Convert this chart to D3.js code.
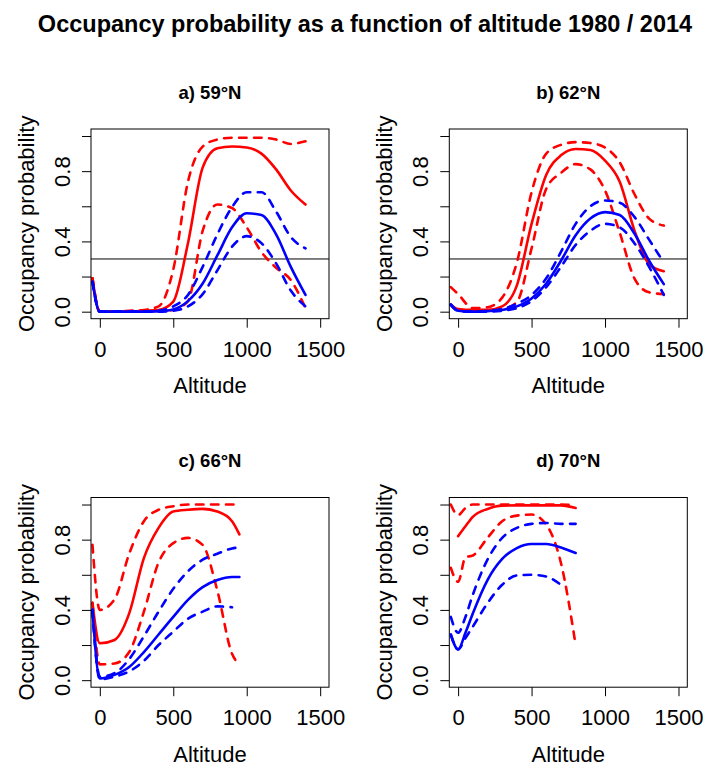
<!DOCTYPE html>
<html><head><meta charset="utf-8">
<script src="https://cdn.jsdelivr.net/npm/d3@7"></script>
<style>
body{margin:0;background:#fff}
svg{display:block}
text{font-family:"Liberation Sans",Arial,Helvetica,sans-serif;fill:#000}
</style>
</head><body><svg id="chart" width="707" height="765"></svg>
<script>
// ---------- text ----------
const mainTitle = "Occupancy probability as a function of altitude 1980 / 2014";
const panelTitles = ["a) 59°N", "b) 62°N", "c) 66°N", "d) 70°N"];
const xLabel = "Altitude";
const yLabel = "Occupancy probability";
const xTicks = [0, 500, 1000, 1500];
const xTickLabels = ["0", "500", "1000", "1500"];
const yTicks = [0, 0.2, 0.4, 0.6, 0.8, 1.0];
const yTickLabels = ["0.0", "", "0.4", "", "0.8", ""];
const threshold = 0.3;

// ---------- data (altitude grids) ----------
const altA = [-50, 0, 100, 200, 300, 400, 500, 600, 700, 800, 900, 1000, 1100, 1200, 1300, 1400];
const altB = [-50, 0, 100, 200, 300, 400, 500, 600, 700, 800, 900, 1000, 1100, 1200, 1300, 1400];
const altC = [-50, 0, 100, 200, 300, 400, 500, 600, 700, 800, 900, 950];
const altD = [-50, 0, 50, 100, 200, 300, 400, 500, 600, 700, 800];

// panel a) 59°N
const aRedFit  = [0.19, 0.0, 0.0, 0.0, 0.005, 0.01, 0.057, 0.39, 0.82, 0.93, 0.94, 0.935, 0.90, 0.81, 0.69, 0.61];
const aRedHi   = [0.19, 0.0, 0.0, 0.005, 0.01, 0.03, 0.24, 0.74, 0.94, 0.98, 0.99, 0.99, 0.99, 0.98, 0.955, 0.97];
const aRedLo   = [0.19, 0.0, 0.0, 0.0, 0.0, 0.005, 0.01, 0.06, 0.46, 0.61, 0.59, 0.48, 0.34, 0.25, 0.18, 0.02];
const aBlueFit = [0.17, 0.0, 0.0, 0.0, 0.0, 0.003, 0.013, 0.06, 0.16, 0.32, 0.48, 0.56, 0.55, 0.44, 0.255, 0.095];
const aBlueHi  = [0.17, 0.0, 0.0, 0.0, 0.0, 0.005, 0.03, 0.095, 0.255, 0.44, 0.595, 0.68, 0.68, 0.57, 0.425, 0.36];
const aBlueLo  = [0.17, 0.0, 0.0, 0.0, 0.0, 0.0, 0.005, 0.03, 0.10, 0.235, 0.37, 0.43, 0.39, 0.275, 0.12, 0.03];

// panel b) 62°N
const bRedFit  = [0.04, 0.015, 0.01, 0.01, 0.03, 0.15, 0.50, 0.78, 0.89, 0.926, 0.92, 0.86, 0.74, 0.463, 0.27, 0.23];
const bRedHi   = [0.14, 0.10, 0.02, 0.025, 0.08, 0.28, 0.68, 0.90, 0.95, 0.965, 0.96, 0.935, 0.85, 0.67, 0.53, 0.49];
const bRedLo   = [0.04, 0.01, 0.0, 0.005, 0.015, 0.055, 0.36, 0.70, 0.79, 0.84, 0.81, 0.69, 0.45, 0.19, 0.11, 0.10];
const bBlueFit = [0.04, 0.005, 0.0, 0.003, 0.01, 0.03, 0.075, 0.16, 0.29, 0.435, 0.53, 0.567, 0.55, 0.445, 0.29, 0.157];
const bBlueHi  = [0.04, 0.005, 0.0, 0.005, 0.015, 0.045, 0.095, 0.19, 0.34, 0.50, 0.60, 0.633, 0.62, 0.54, 0.41, 0.28];
const bBlueLo  = [0.04, 0.005, 0.0, 0.0, 0.005, 0.02, 0.06, 0.14, 0.255, 0.38, 0.46, 0.50, 0.48, 0.39, 0.255, 0.095];

// panel c) 66°N
const cRedFit  = [0.44, 0.21, 0.229, 0.38, 0.695, 0.867, 0.96, 0.97, 0.975, 0.96, 0.905, 0.83];
const cRedHi   = [0.77, 0.40, 0.46, 0.72, 0.905, 0.97, 0.99, 1.0, 1.0, 1.0, 1.0, 1.0];
const cRedLo   = [0.44, 0.09, 0.095, 0.16, 0.39, 0.67, 0.78, 0.81, 0.77, 0.51, 0.15, 0.09];
const cBlueFit = [0.40, 0.01, 0.03, 0.075, 0.16, 0.26, 0.36, 0.457, 0.53, 0.57, 0.587, 0.587];
const cBlueHi  = [0.40, 0.02, 0.04, 0.12, 0.25, 0.39, 0.52, 0.62, 0.686, 0.72, 0.75, 0.756];
const cBlueLo  = [0.40, 0.005, 0.02, 0.05, 0.11, 0.20, 0.276, 0.35, 0.39, 0.42, 0.415, null];

// panel d) 70°N
const dRedFit  = [null, 0.82, 0.876, 0.93, 0.975, 0.994, 0.995, 0.995, 0.995, 0.995, 0.98];
const dRedHi   = [1.0, 0.94, 0.98, 1.0, 1.0, 1.0, 1.0, 1.0, 1.0, 1.0, 0.995];
const dRedLo   = [0.64, 0.56, 0.70, 0.71, 0.81, 0.905, 0.937, 0.943, 0.886, 0.667, 0.20];
const dBlueFit = [0.26, 0.175, 0.27, 0.38, 0.57, 0.69, 0.752, 0.775, 0.775, 0.756, 0.724];
const dBlueHi  = [0.36, 0.27, 0.36, 0.486, 0.686, 0.81, 0.867, 0.89, 0.895, 0.89, 0.89];
const dBlueLo  = [0.26, 0.175, 0.24, 0.305, 0.438, 0.543, 0.596, 0.60, 0.59, 0.543, null];

const panels = [
  {title: panelTitles[0], alt: altA, hline: true,  series: [aRedLo, aRedHi, aRedFit, aBlueLo, aBlueHi, aBlueFit]},
  {title: panelTitles[1], alt: altB, hline: true,  series: [bRedLo, bRedHi, bRedFit, bBlueLo, bBlueHi, bBlueFit]},
  {title: panelTitles[2], alt: altC, hline: false, series: [cRedLo, cRedHi, cRedFit, cBlueLo, cBlueHi, cBlueFit]},
  {title: panelTitles[3], alt: altD, hline: false, series: [dRedLo, dRedHi, dRedFit, dBlueLo, dBlueHi, dBlueFit]}
];
const seriesColor = ["#ff0000", "#ff0000", "#ff0000", "#0000ff", "#0000ff", "#0000ff"];
const seriesDashed = [true, true, false, true, true, false];

// ---------- drawing ----------
const svg = d3.select("#chart");
svg.append("rect").attr("width", 707).attr("height", 765).attr("fill", "#fff");

svg.append("text").attr("x", 365).attr("y", 32)
  .attr("text-anchor", "middle").attr("font-weight", "bold").attr("font-size", 23.5)
  .text(mainTitle);

const plotW = 238, plotH = 189.7;
panels.forEach((p, i) => {
  const col = i % 2, row = Math.floor(i / 2);
  const left = 91 + col * 358.3, top = 129 + row * 368.5;
  const g = svg.append("g").attr("transform", `translate(${left},${top})`);

  const x = d3.scaleLinear().domain([-60, 1560]).range([0, plotW]);
  const y = d3.scaleLinear().domain([-0.04, 1.04]).range([plotH, 0]);

  const clipId = "clip" + i;
  g.append("clipPath").attr("id", clipId).append("rect")
    .attr("x", 0).attr("y", 0).attr("width", plotW).attr("height", plotH);

  // threshold line
  if (p.hline) {
    g.append("line").attr("x1", 0).attr("x2", plotW)
      .attr("y1", y(threshold)).attr("y2", y(threshold))
      .attr("stroke", "#000").attr("stroke-width", 1);
  }

  const line = d3.line()
    .defined(d => d[1] != null)
    .x(d => x(d[0])).y(d => y(d[1]))
    .curve(d3.curveMonotoneX);

  const lg = g.append("g").attr("clip-path", `url(#${clipId})`);
  p.series.forEach((s, k) => {
    const pts = p.alt.map((a, j) => [a, s[j]]);
    lg.append("path").datum(pts).attr("d", line)
      .attr("fill", "none").attr("stroke", seriesColor[k])
      .attr("stroke-width", 2.6)
      .attr("stroke-linecap", "round").attr("stroke-linejoin", "round")
      .attr("stroke-dasharray", seriesDashed[k] ? "7.5,7.5" : null);
  });

  // box
  g.append("rect").attr("x", 0).attr("y", 0).attr("width", plotW).attr("height", plotH)
    .attr("fill", "none").attr("stroke", "#000").attr("stroke-width", 1);

  // x axis
  const xa = g.append("g").attr("transform", `translate(0,${plotH})`)
    .call(d3.axisBottom(x).tickValues(xTicks).tickFormat((d, j) => xTickLabels[j]).tickSize(9).tickSizeOuter(0));
  xa.select(".domain").remove();
  xa.selectAll(".tick line").attr("stroke", "#000");
  xa.selectAll(".tick text").attr("y", 38.3).attr("dy", 0)
    .attr("font-size", 22).attr("font-family", "Liberation Sans, Arial, sans-serif").attr("fill", "#000");

  // y axis
  const ya = g.append("g")
    .call(d3.axisLeft(y).tickValues(yTicks).tickFormat((d, j) => yTickLabels[j]).tickSize(9).tickSizeOuter(0));
  ya.select(".domain").remove();
  ya.selectAll(".tick line").attr("stroke", "#000");
  ya.selectAll(".tick text")
    .attr("x", 0).attr("dy", 0)
    .attr("transform", "translate(-21,0) rotate(-90)")
    .attr("text-anchor", "middle")
    .attr("font-size", 22).attr("font-family", "Liberation Sans, Arial, sans-serif").attr("fill", "#000");

  // labels
  g.append("text").attr("x", plotW / 2).attr("y", -30.5)
    .attr("text-anchor", "middle").attr("font-weight", "bold").attr("font-size", 18.5)
    .text(p.title);
  g.append("text").attr("x", plotW / 2).attr("y", plotH + 74.3)
    .attr("text-anchor", "middle").attr("font-size", 22).text(xLabel);
  g.append("text").attr("transform", `translate(-57,${plotH / 2}) rotate(-90)`)
    .attr("text-anchor", "middle").attr("font-size", 22).text(yLabel);
});
</script>
</body></html>
